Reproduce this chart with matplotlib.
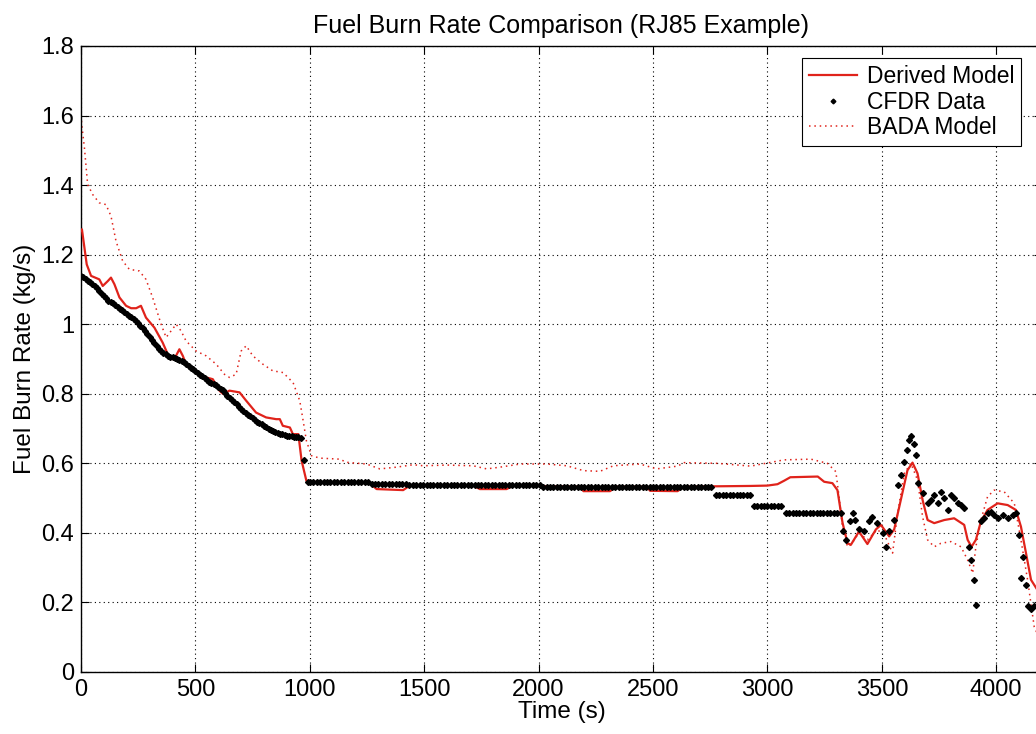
import matplotlib
matplotlib.use("Agg")
import matplotlib.pyplot as plt

# Derived model (red solid)
derived_t = [0, 4, 15, 25, 44, 80, 95, 117, 131, 146, 168, 197, 219, 241, 262, 284, 321, 357,
             379, 394, 408, 430, 445, 459, 503, 547, 576, 605, 620, 649, 693, 722, 765, 809,
             853, 869, 882, 913, 926, 950, 964, 985, 1000, 1262, 1292, 1408, 1437, 1714, 1743,
             1860, 1889, 2181, 2196, 2312, 2341, 2472, 2487, 2607, 2636, 2927, 3000, 3044, 3073,
             3100, 3220, 3248, 3284, 3306, 3328, 3350, 3365, 3400, 3437, 3474, 3496, 3532, 3554,
             3583, 3612, 3634, 3656, 3678, 3700, 3729, 3773, 3816, 3860, 3875, 3892, 3911, 3933,
             3962, 4006, 4050, 4086, 4108, 4130, 4152, 4178, 4200]
derived_v = [1.27, 1.273, 1.22, 1.172, 1.139, 1.129, 1.11, 1.124, 1.134, 1.115, 1.077, 1.053,
             1.046, 1.046, 1.053, 1.019, 0.99, 0.947, 0.914, 0.9, 0.9, 0.928, 0.909, 0.885,
             0.866, 0.847, 0.842, 0.809, 0.8, 0.809, 0.804, 0.78, 0.746, 0.732, 0.727, 0.727,
             0.708, 0.703, 0.684, 0.684, 0.608, 0.55, 0.547, 0.543, 0.526, 0.523, 0.536, 0.536,
             0.526, 0.526, 0.536, 0.533, 0.52, 0.52, 0.533, 0.533, 0.521, 0.52, 0.533, 0.535,
             0.536, 0.54, 0.55, 0.56, 0.562, 0.547, 0.543, 0.523, 0.43, 0.37, 0.366, 0.404,
             0.368, 0.41, 0.423, 0.39, 0.41, 0.495, 0.58, 0.602, 0.571, 0.495, 0.437, 0.428,
             0.437, 0.442, 0.423, 0.38, 0.36, 0.38, 0.433, 0.466, 0.485, 0.48, 0.466, 0.418,
             0.342, 0.265, 0.238, 0.23]

# BADA model (red dotted)
bada_t = [0, 4, 15, 29, 51, 80, 109, 131, 153, 182, 211, 255, 284, 313, 350, 372, 394, 416,
          437, 459, 503, 547, 591, 627, 649, 678, 700, 722, 751, 795, 838, 883, 927, 956, 971,
          985, 1007, 1044, 1131, 1160, 1248, 1306, 1379, 1452, 1496, 1598, 1714, 1773, 1831,
          1919, 2035, 2123, 2196, 2268, 2327, 2443, 2516, 2607, 2636, 2781, 2927, 3073, 3190,
          3262, 3299, 3313, 3328, 3350, 3365, 3400, 3437, 3481, 3518, 3547, 3569, 3598, 3627,
          3656, 3678, 3700, 3729, 3758, 3802, 3846, 3875, 3897, 3911, 3933, 3962, 3991, 4035,
          4079, 4108, 4137, 4166, 4200]
bada_v = [1.60, 1.57, 1.507, 1.402, 1.373, 1.349, 1.344, 1.311, 1.239, 1.182, 1.158, 1.153,
          1.129, 1.077, 1.0, 0.962, 0.981, 1.0, 0.981, 0.952, 0.923, 0.909, 0.885, 0.856,
          0.847, 0.856, 0.923, 0.938, 0.909, 0.885, 0.866, 0.861, 0.832, 0.78, 0.722, 0.665,
          0.622, 0.615, 0.612, 0.603, 0.598, 0.584, 0.589, 0.596, 0.593, 0.595, 0.593, 0.584,
          0.589, 0.598, 0.598, 0.593, 0.579, 0.577, 0.593, 0.598, 0.584, 0.592, 0.602, 0.6,
          0.592, 0.61, 0.612, 0.6, 0.576, 0.504, 0.418, 0.36, 0.366, 0.4, 0.38, 0.41, 0.385,
          0.342, 0.456, 0.571, 0.6, 0.552, 0.447, 0.38, 0.36, 0.37, 0.375, 0.36, 0.322, 0.284,
          0.36, 0.437, 0.504, 0.523, 0.518, 0.485, 0.38, 0.265, 0.13, 0.08]

# CFDR recorded data (black markers): climb/descent segment, sampled densely
cfdr_t_early = [0, 10, 20, 30, 40, 50, 60, 70, 80, 90, 100, 110, 120, 130, 140, 150, 160, 170,
                180, 190, 200, 210, 220, 230, 240, 250, 260, 270, 280, 290, 300, 310, 320, 330,
                340, 350, 360, 370, 380, 390, 400, 410, 420, 430, 440, 450, 460, 470, 480, 490,
                500, 510, 520, 530, 540, 550, 560, 570, 580, 590, 600, 610, 620, 630, 640, 650,
                660, 670, 680, 690, 700, 710, 720, 730, 740, 750, 760, 770, 780, 790, 800, 810,
                820, 830, 840, 850, 860, 870, 880, 890, 900, 910, 920, 930, 940, 950, 960, 975,
                990]
cfdr_v_early = [1.14, 1.135, 1.13, 1.125, 1.12, 1.115, 1.11, 1.103, 1.096, 1.088, 1.08, 1.074,
                1.068, 1.064, 1.06, 1.055, 1.05, 1.045, 1.04, 1.035, 1.03, 1.025, 1.02, 1.015,
                1.01, 1.003, 0.995, 0.988, 0.98, 0.971, 0.962, 0.955, 0.947, 0.938, 0.93, 0.924,
                0.918, 0.914, 0.91, 0.907, 0.905, 0.902, 0.9, 0.898, 0.895, 0.89, 0.885, 0.88,
                0.875, 0.87, 0.866, 0.86, 0.855, 0.85, 0.845, 0.84, 0.835, 0.831, 0.828, 0.824,
                0.82, 0.815, 0.81, 0.802, 0.795, 0.789, 0.783, 0.776, 0.77, 0.763, 0.757, 0.751,
                0.745, 0.74, 0.735, 0.73, 0.725, 0.72, 0.716, 0.712, 0.708, 0.704, 0.7, 0.696,
                0.692, 0.689, 0.686, 0.684, 0.683, 0.681, 0.68, 0.679, 0.678, 0.677, 0.677,
                0.675, 0.674, 0.61, 0.545]

# cruise: quantised levels
cfdr_t_cruise = [1000, 1015, 1030, 1045, 1060, 1075, 1090, 1105, 1120, 1135, 1150, 1165, 1180,
                 1195, 1210, 1225, 1240, 1255,
                 1270, 1285, 1300, 1315, 1330, 1345, 1360, 1375, 1390, 1405, 1420,
                 1435, 1450, 1465, 1480, 1495, 1510, 1525, 1540, 1555, 1570, 1585, 1600, 1615,
                 1630, 1645, 1660, 1675, 1690, 1705, 1720, 1735, 1750, 1765, 1780, 1795, 1810,
                 1825, 1840, 1855, 1870, 1885, 1900, 1915, 1930, 1945, 1960, 1975, 1990, 2005,
                 2020, 2035, 2050, 2065, 2080, 2095, 2110, 2125, 2140, 2155, 2170, 2185, 2200,
                 2215, 2230, 2245, 2260, 2275, 2290, 2305, 2320, 2335, 2350, 2365, 2380, 2395,
                 2410, 2425, 2440, 2455, 2470, 2485, 2500, 2515, 2530, 2545, 2560, 2575, 2590,
                 2605, 2620, 2635, 2650, 2665, 2680, 2695, 2710, 2725, 2740, 2755,
                 2775, 2790, 2805, 2820, 2835, 2850, 2865, 2880, 2895, 2910, 2925,
                 2940, 2955, 2970, 2985, 3000, 3015, 3030, 3045, 3060,
                 3080, 3095, 3110, 3125, 3140, 3155, 3170, 3185, 3200, 3215, 3230, 3245, 3260,
                 3275, 3290, 3305, 3320]
cfdr_v_cruise = ([0.545] * 18 + [0.541] * 11 + [0.537] * 39 + [0.532] * 50
                 + [0.509] * 11 + [0.476] * 9 + [0.458] * 17)

# approach: scattered samples
cfdr_t_late = [3332, 3343, 3362, 3372, 3382, 3401, 3423, 3445, 3459, 3481, 3503, 3518, 3532,
               3554, 3569, 3583, 3598, 3612, 3620, 3627, 3642, 3649, 3656, 3678, 3700, 3714,
               3729, 3744, 3758, 3773, 3787, 3802, 3816, 3831, 3846, 3860, 3882, 3889, 3901,
               3911, 3933, 3948, 3962, 3977, 3991, 4006, 4028, 4050, 4072, 4086, 4101, 4110,
               4115, 4130, 4137, 4152, 4166]
cfdr_v_late = [0.404, 0.38, 0.433, 0.458, 0.437, 0.41, 0.404, 0.433, 0.447, 0.428, 0.40, 0.36,
               0.404, 0.437, 0.538, 0.566, 0.605, 0.638, 0.667, 0.68, 0.657, 0.624, 0.543,
               0.514, 0.485, 0.495, 0.509, 0.485, 0.519, 0.50, 0.466, 0.509, 0.50, 0.485, 0.48,
               0.471, 0.36, 0.322, 0.265, 0.193, 0.433, 0.442, 0.457, 0.461, 0.452, 0.442,
               0.452, 0.442, 0.452, 0.457, 0.394, 0.27, 0.332, 0.25, 0.19, 0.18, 0.19]

x_ticks = [0, 500, 1000, 1500, 2000, 2500, 3000, 3500, 4000]
y_ticks = [0, 0.2, 0.4, 0.6, 0.8, 1.0, 1.2, 1.4, 1.6, 1.8]
y_labels = ["0", "0.2", "0.4", "0.6", "0.8", "1", "1.2", "1.4", "1.6", "1.8"]

RED = "#e0231b"


def main():
    plt.rcParams["font.family"] = ["Liberation Sans", "DejaVu Sans"]
    fig = plt.figure(figsize=(10.36, 7.34), dpi=100)
    # axes runs slightly past the right edge, as in the cropped original
    ax = fig.add_axes([81 / 1036, 62 / 734, 961 / 1036, 626 / 734])

    cfdr_t = cfdr_t_early + cfdr_t_cruise + cfdr_t_late
    cfdr_v = cfdr_v_early + cfdr_v_cruise + cfdr_v_late

    ax.plot(derived_t, derived_v, color=RED, lw=1.6, label="Derived Model", zorder=3)
    ax.plot(cfdr_t, cfdr_v, ls="none", marker="D", ms=3.0, color="black",
            label="CFDR Data", zorder=4)
    ax.plot(bada_t, bada_v, color=RED, lw=1.1, ls=(0, (1, 2.5)), label="BADA Model", zorder=2)

    ax.set_xlim(0, 4200)
    ax.set_ylim(0, 1.8)
    ax.set_xticks(x_ticks)
    ax.set_yticks(y_ticks)
    ax.set_yticklabels(y_labels)
    ax.tick_params(direction="in", length=6, width=0.8, labelsize=17, top=True, right=True, pad=5)
    ax.grid(True, color="black", lw=0.8, ls=(0, (1, 3)))
    for sp in ax.spines.values():
        sp.set_linewidth(1.0)

    ax.set_xlabel("Time (s)", fontsize=17.5, labelpad=0)
    ax.set_ylabel("Fuel Burn Rate (kg/s)", fontsize=17.5, labelpad=4)
    ax.set_title("Fuel Burn Rate Comparison (RJ85 Example)", fontsize=18, pad=9)

    leg = ax.legend(loc="upper right", bbox_to_anchor=(940 / 961, 614 / 626), fontsize=16.5,
                    frameon=True, fancybox=False, framealpha=1, edgecolor="black",
                    borderaxespad=0, handlelength=2.1, handletextpad=0.4,
                    labelspacing=0.12, borderpad=0.3, markerscale=0.8)
    leg.get_frame().set_linewidth(0.8)

    fig.savefig("out.png", dpi=100)


if __name__ == "__main__":
    main()
